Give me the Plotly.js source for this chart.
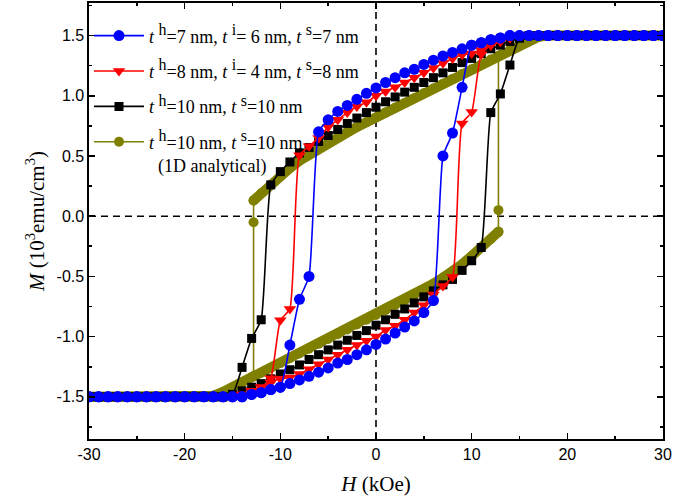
<!DOCTYPE html>
<html>
<head>
<meta charset="utf-8">
<script src="https://cdn.plot.ly/plotly-3.0.1.min.js"></script>
<style>html,body{margin:0;padding:0;background:#fff}</style>
</head>
<body>
<div id="chart" style="width:675px;height:500px"></div>
<script>
// ---------- data ----------
// field values for the descending (30 -> -30) and ascending (-30 -> 30) sweeps, kOe
const hDown = [30,29,28,27,26,25,24,23,22,21,20,19,18,17,16,15,14,13,12,11,10,9,8,7,6,5,4,3,2,1,0,-1,-2,-3,-4,-5,-6,-7,-8,-9,-10,-11,-12,-13,-14,-15,-16,-17,-18,-19,-20,-21,-22,-23,-24,-25,-26,-27,-28,-29,-30];
const hUp = [-30,-29,-28,-27,-26,-25,-24,-23,-22,-21,-20,-19,-18,-17,-16,-15,-14,-13,-12,-11,-10,-9,-8,-7,-6,-5,-4,-3,-2,-1,0,1,2,3,4,5,6,7,8,9,10,11,12,13,14,15,16,17,18,19,20,21,22,23,24,25,26,27,28,29,30];

// t^h=7, t^i=6, t^s=7 nm (blue)
const blueDown = [1.5,1.5,1.5,1.5,1.5,1.5,1.5,1.5,1.5,1.5,1.5,1.5,1.5,1.5,1.5,1.5,1.5,1.48,1.465,1.44,1.42,1.39,1.36,1.33,1.295,1.26,1.22,1.19,1.15,1.11,1.065,1.02,0.97,0.92,0.87,0.80,0.70,-0.50,-0.69,-1.07,-1.42,-1.44,-1.465,-1.48,-1.5,-1.5,-1.5,-1.5,-1.5,-1.5,-1.5,-1.5,-1.5,-1.5,-1.5,-1.5,-1.5,-1.5,-1.5,-1.5,-1.5];
const blueUp = [-1.5,-1.5,-1.5,-1.5,-1.5,-1.5,-1.5,-1.5,-1.5,-1.5,-1.5,-1.5,-1.5,-1.5,-1.5,-1.5,-1.5,-1.48,-1.465,-1.44,-1.42,-1.39,-1.36,-1.33,-1.295,-1.26,-1.22,-1.19,-1.15,-1.11,-1.065,-1.02,-0.97,-0.92,-0.87,-0.80,-0.70,0.50,0.69,1.07,1.42,1.44,1.465,1.48,1.5,1.5,1.5,1.5,1.5,1.5,1.5,1.5,1.5,1.5,1.5,1.5,1.5,1.5,1.5,1.5,1.5];

// t^h=8, t^i=4, t^s=8 nm (red)
const redDown = [1.5,1.5,1.5,1.5,1.5,1.5,1.5,1.5,1.5,1.5,1.5,1.5,1.5,1.5,1.5,1.5,1.48,1.45,1.42,1.38,1.35,1.34,1.31,1.27,1.23,1.19,1.15,1.11,1.07,1.035,1.0,0.945,0.91,0.86,0.80,0.74,0.65,0.58,0.505,-0.77,-0.865,-1.345,-1.42,-1.45,-1.48,-1.5,-1.5,-1.5,-1.5,-1.5,-1.5,-1.5,-1.5,-1.5,-1.5,-1.5,-1.5,-1.5,-1.5,-1.5,-1.5];
const redUp = [-1.5,-1.5,-1.5,-1.5,-1.5,-1.5,-1.5,-1.5,-1.5,-1.5,-1.5,-1.5,-1.5,-1.5,-1.5,-1.5,-1.48,-1.45,-1.42,-1.38,-1.35,-1.34,-1.31,-1.27,-1.23,-1.19,-1.15,-1.11,-1.07,-1.035,-1.0,-0.945,-0.91,-0.86,-0.80,-0.74,-0.65,-0.58,-0.505,0.77,0.865,1.345,1.42,1.45,1.48,1.5,1.5,1.5,1.5,1.5,1.5,1.5,1.5,1.5,1.5,1.5,1.5,1.5,1.5,1.5,1.5];

// t^h=10, t^s=10 nm (black)
const blackDown = [1.5,1.5,1.5,1.5,1.5,1.5,1.5,1.5,1.5,1.5,1.5,1.5,1.5,1.5,1.5,1.48,1.45,1.42,1.39,1.35,1.31,1.275,1.235,1.19,1.15,1.11,1.07,1.03,0.99,0.95,0.905,0.86,0.815,0.77,0.72,0.67,0.62,0.57,0.525,0.45,0.37,0.26,-0.86,-1.015,-1.255,-1.48,-1.5,-1.5,-1.5,-1.5,-1.5,-1.5,-1.5,-1.5,-1.5,-1.5,-1.5,-1.5,-1.5,-1.5,-1.5];
const blackUp = [-1.5,-1.5,-1.5,-1.5,-1.5,-1.5,-1.5,-1.5,-1.5,-1.5,-1.5,-1.5,-1.5,-1.5,-1.5,-1.48,-1.45,-1.42,-1.39,-1.35,-1.31,-1.275,-1.235,-1.19,-1.15,-1.11,-1.07,-1.03,-0.99,-0.95,-0.905,-0.86,-0.815,-0.77,-0.72,-0.67,-0.62,-0.57,-0.525,-0.45,-0.37,-0.26,0.86,1.015,1.255,1.48,1.5,1.5,1.5,1.5,1.5,1.5,1.5,1.5,1.5,1.5,1.5,1.5,1.5,1.5,1.5];

// t^h=10, t^s=10 nm, 1D analytical (olive)
const oliveUpperH = [-12.8,-12,-11,-10,-9,-8,-7,-6,-5,-4,-3,-2,-1,0,1,2,3,4,5,6,7,8,9,10,11,12,13,14,15,16,17,18,19,20,21,22,23,24,25,26,27,28,29,30];
const oliveUpperM = [0.13,0.19,0.26,0.33,0.40,0.46,0.51,0.56,0.61,0.655,0.70,0.74,0.78,0.82,0.86,0.90,0.94,0.98,1.02,1.06,1.10,1.14,1.18,1.22,1.26,1.30,1.34,1.38,1.42,1.46,1.49,1.5,1.5,1.5,1.5,1.5,1.5,1.5,1.5,1.5,1.5,1.5,1.5,1.5];
const oliveLowerH = [-30,-29,-28,-27,-26,-25,-24,-23,-22,-21,-20,-19,-18,-17,-16,-15,-14,-13,-12,-11,-10,-9,-8,-7,-6,-5,-4,-3,-2,-1,0,1,2,3,4,5,6,7,8,9,10,11,12,12.8];
const oliveLowerM = [-1.5,-1.5,-1.5,-1.5,-1.5,-1.5,-1.5,-1.5,-1.5,-1.5,-1.5,-1.5,-1.5,-1.49,-1.46,-1.42,-1.38,-1.34,-1.30,-1.26,-1.22,-1.18,-1.14,-1.10,-1.06,-1.02,-0.98,-0.94,-0.90,-0.86,-0.82,-0.78,-0.74,-0.70,-0.655,-0.61,-0.56,-0.51,-0.46,-0.40,-0.33,-0.26,-0.19,-0.13];
const oliveJumpDownH = [-12.8,-12.8,-12.8];
const oliveJumpDownM = [0.13,-0.05,-1.33];
const oliveJumpUpH = [12.8,12.8,12.8];
const oliveJumpUpM = [-0.13,0.05,1.33];

// axis tick labels
const xTickVals = [-30,-20,-10,0,10,20,30];
const xTickText = ['-30','-20','-10','0','10','20','30'];
const yTickVals = [-1.5,-1.0,-0.5,0.0,0.5,1.0,1.5];
const yTickText = ['-1.5','-1.0','-0.5','0.0','0.5','1.0','1.5'];

function sup(s) { return '<sup><span style="font-size:16px">' + s + '</span></sup>'; }
const names = [
  '<i>t</i> ' + sup('h') + '=7 nm, <i>t</i> ' + sup('i') + '= 6 nm, <i>t</i> ' + sup('s') + '=7 nm',
  '<i>t</i> ' + sup('h') + '=8 nm, <i>t</i> ' + sup('i') + '= 4 nm, <i>t</i> ' + sup('s') + '=8 nm',
  '<i>t</i> ' + sup('h') + '=10 nm, <i>t</i> ' + sup('s') + '=10 nm',
  '<i>t</i> ' + sup('h') + '=10 nm, <i>t</i> ' + sup('s') + '=10 nm<br>  (1D analytical)'
];

// ---------- styles ----------
const BLUE = '#0000FF', RED = '#FF0000', BLACK = '#000000', OLIVE = '#808000';
const LINE = {width: 1.6, shape: 'spline', smoothing: 0.5};

function loop(xd, yd, xu, yu, color, symbol, size, name, rank) {
  return [
    {x: xd, y: yd, type: 'scatter', mode: 'lines+markers', name: name,
     legendgroup: 'g' + rank, legendrank: rank, showlegend: true,
     line: Object.assign({color: color}, LINE), marker: {color: color, symbol: symbol, size: size}},
    {x: xu, y: yu, type: 'scatter', mode: 'lines+markers', name: name,
     legendgroup: 'g' + rank, showlegend: false,
     line: Object.assign({color: color}, LINE), marker: {color: color, symbol: symbol, size: size}}
  ];
}

const traces = [
  // olive band (analytical curve), drawn first
  {x: oliveUpperH, y: oliveUpperM, type: 'scatter', mode: 'lines+markers', showlegend: false, legendgroup: 'g4',
   line: {color: OLIVE, width: 10}, marker: {color: OLIVE, size: 10}, hoverinfo: 'skip'},
  {x: oliveLowerH, y: oliveLowerM, type: 'scatter', mode: 'lines+markers', showlegend: false, legendgroup: 'g4',
   line: {color: OLIVE, width: 10}, marker: {color: OLIVE, size: 10}, hoverinfo: 'skip'},
  {x: oliveJumpDownH, y: oliveJumpDownM, type: 'scatter', mode: 'lines+markers', name: names[3], legendgroup: 'g4', legendrank: 4,
   line: {color: OLIVE, width: 1.6}, marker: {color: OLIVE, size: 10}},
  {x: oliveJumpUpH, y: oliveJumpUpM, type: 'scatter', mode: 'lines+markers', showlegend: false, legendgroup: 'g4',
   line: {color: OLIVE, width: 1.6}, marker: {color: OLIVE, size: 10}},
  ...loop(hDown, blackDown, hUp, blackUp, BLACK, 'square', 9, names[2], 3),
  ...loop(hDown, redDown, hUp, redUp, RED, 'triangle-down', 11, names[1], 2),
  ...loop(hDown, blueDown, hUp, blueUp, BLUE, 'circle', 11, names[0], 1)
];

const axisCommon = {
  showgrid: false, zeroline: false, showline: true, linecolor: 'black', linewidth: 1.6,
  mirror: 'ticks', ticks: 'inside', ticklen: 6, tickwidth: 1.6, tickcolor: 'black',
  tickfont: {family: 'Liberation Sans, Arial, sans-serif', size: 16, color: 'black'},
  tickmode: 'array'
};

const layout = {
  width: 675, height: 500,
  margin: {l: 89, r: 12, t: 3, b: 61},
  paper_bgcolor: 'white', plot_bgcolor: 'white',
  showlegend: true,
  legend: {
    x: 0.0, y: 0.967, xanchor: 'left', yanchor: 'top', valign: 'top',
    bgcolor: 'rgba(0,0,0,0)', borderwidth: 0,
    font: {family: 'Liberation Serif, Times New Roman, serif', size: 18, color: 'black'},
    traceorder: 'grouped', tracegroupgap: 9, itemwidth: 50
  },
  xaxis: Object.assign({}, axisCommon, {
    range: [-30, 30], tickvals: xTickVals, ticktext: xTickText,
    minor: {tickmode: 'array', tickvals: [-25,-15,-5,5,15,25], ticks: 'inside', ticklen: 3, tickwidth: 1.6, tickcolor: 'black'},
    title: {text: '<i>H</i> (kOe)', font: {family: 'Liberation Serif, Times New Roman, serif', size: 21, color: 'black'}, standoff: 14}
  }),
  yaxis: Object.assign({}, axisCommon, {
    range: [-1.85, 1.77], tickvals: yTickVals, ticktext: yTickText,
    minor: {tickmode: 'array', tickvals: [-1.75,-1.25,-0.75,-0.25,0.25,0.75,1.25,1.75], ticks: 'inside', ticklen: 3, tickwidth: 1.6, tickcolor: 'black'},
    title: {text: '<i>M</i> (10<sup>3</sup>emu/cm<sup>3</sup>)', font: {family: 'Liberation Serif, Times New Roman, serif', size: 21, color: 'black'}, standoff: 6}
  }),
  shapes: [
    {type: 'line', xref: 'x', yref: 'paper', x0: 0, x1: 0, y0: 0, y1: 1, line: {color: 'black', width: 1.6, dash: '7px,5px'}, layer: 'below'},
    {type: 'line', xref: 'paper', yref: 'y', x0: 0, x1: 1, y0: 0, y1: 0, line: {color: 'black', width: 1.6, dash: '7px,5px'}, layer: 'below'}
  ]
};

Plotly.newPlot('chart', traces, layout, {displayModeBar: false, staticPlot: true});
</script>
</body>
</html>
